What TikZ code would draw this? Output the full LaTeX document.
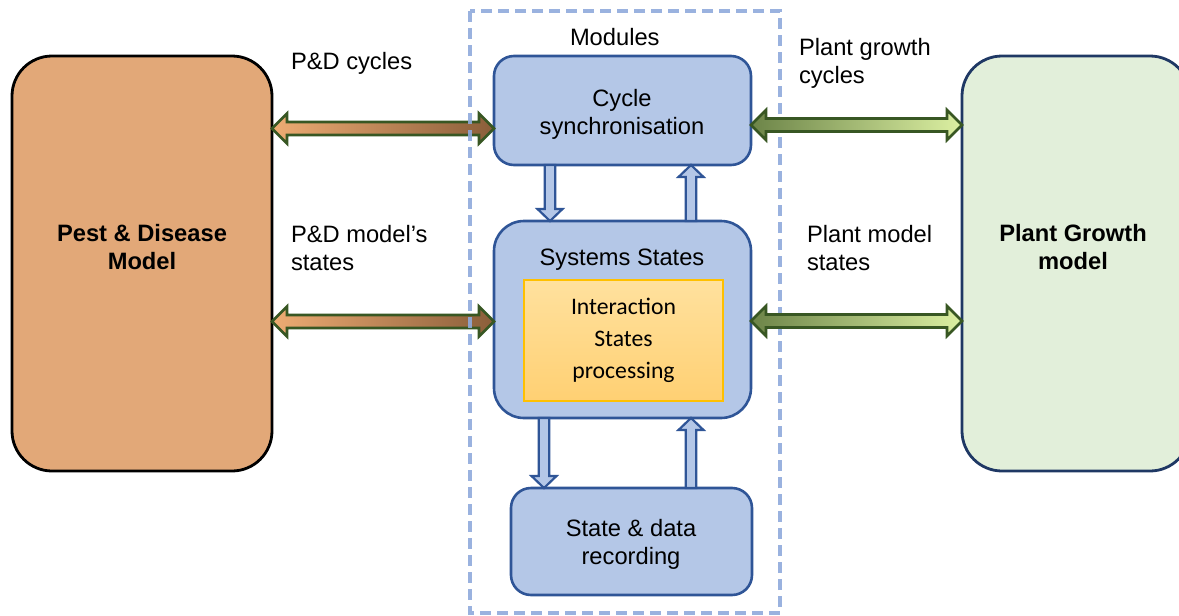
\documentclass[tikz,border=0pt]{standalone}
\usepackage{fontspec}
\setmainfont{Liberation Sans}
\newfontfamily\calfont{Carlito}
\usetikzlibrary{calc}
\definecolor{pdfill}{RGB}{226,168,120}
\definecolor{pgfill}{RGB}{226,239,218}
\definecolor{pgline}{RGB}{31,56,100}
\definecolor{modfill}{RGB}{180,199,231}
\definecolor{modline}{RGB}{47,85,151}
\definecolor{dashc}{RGB}{143,170,220}
\definecolor{intline}{RGB}{255,192,0}
\definecolor{inttop}{RGB}{255,225,158}
\definecolor{intbot}{RGB}{255,208,115}
\definecolor{arrline}{RGB}{56,87,35}
\definecolor{orL}{RGB}{238,172,115}
\definecolor{orR}{RGB}{138,94,58}
\definecolor{grL}{RGB}{108,132,72}
\definecolor{grR}{RGB}{220,240,162}
\newcommand\hdarrow[3]{%
 \draw[#3] (#1) -- ($(#1)+(7.5pt,7.5pt)$) -- ($(#1)+(7.5pt,3.25pt)$) -- ($(#2)+(-7.5pt,3.25pt)$) -- ($(#2)+(-7.5pt,7.5pt)$) -- (#2) -- ($(#2)+(-7.5pt,-7.5pt)$) -- ($(#2)+(-7.5pt,-3.25pt)$) -- ($(#1)+(7.5pt,-3.25pt)$) -- ($(#1)+(7.5pt,-7.5pt)$) -- cycle;}
\newcommand\vdown[3]{%
 \draw[#3] ($(#1)+(-2.6pt,0pt)$) -- ($(#2)+(-2.6pt,6pt)$) -- ($(#2)+(-6.25pt,6pt)$) -- (#2) -- ($(#2)+(6.25pt,6pt)$) -- ($(#2)+(2.6pt,6pt)$) -- ($(#1)+(2.6pt,0pt)$) -- cycle;}
\newcommand\vup[3]{%
 \draw[#3] ($(#1)+(-2.6pt,0pt)$) -- ($(#2)+(-2.6pt,-6pt)$) -- ($(#2)+(-6.25pt,-6pt)$) -- (#2) -- ($(#2)+(6.25pt,-6pt)$) -- ($(#2)+(2.6pt,-6pt)$) -- ($(#1)+(2.6pt,0pt)$) -- cycle;}
\begin{document}
\begin{tikzpicture}[x=0.5pt,y=-0.5pt,
  txt/.style={font=\fontsize{11.85}{14}\selectfont, inner sep=0pt, outer sep=0pt, align=center},
  lbl/.style={txt, align=left, anchor=west},
  bigbox/.style={line width=1.4pt, rounded corners=20pt, inner sep=0pt, outer sep=0pt},
  modbox/.style={draw=modline, fill=modfill, line width=1.3pt, rounded corners=10pt, inner sep=0pt, outer sep=0pt},
  harrL/.style={draw=arrline, line width=1.3pt, left color=orL, right color=orR},
  harrR/.style={draw=arrline, line width=1.3pt, left color=grL, right color=grR},
  varr/.style={draw=modline, fill=modfill, line width=1.1pt}]
\useasboundingbox (0,0) rectangle (1179,616);
\clip (0,0) rectangle (1179,616);
% big side boxes
\node[bigbox, draw=black, fill=pdfill, minimum width=130pt, minimum height=207.5pt] (pd) at (142,263.5) {};
\node[txt, font=\fontsize{11.85}{14}\selectfont\bfseries] (pdt) at (142,247) {Pest \& Disease\\Model};
\node[bigbox, draw=pgline, fill=pgfill, minimum width=114pt, minimum height=207.5pt] (pg) at (1076,263.5) {};
\node[txt, font=\fontsize{11.85}{14}\selectfont\bfseries] (pgt) at (1073,247) {Plant Growth\\model};
% modules
\node[modbox, minimum width=128.5pt, minimum height=54.5pt] (cs) at (622.5,110.5) {};
\node[txt] (cst) at (622,114) {Cycle\\synchronisation};
\node[modbox, rounded corners=15pt, minimum width=128.5pt, minimum height=98.5pt] (ss) at (622.5,319.5) {};
\node[txt] (sst) at (622,260) {Systems States};
\node[draw=intline, line width=0.8pt, top color=inttop, bottom color=intbot, minimum width=99.5pt, minimum height=60.5pt, inner sep=0pt, outer sep=0pt, align=center, font=\calfont\fontsize{11.85}{16}\selectfont] (ib) at (623.5,340.5) {Interaction\\States\\processing};
\node[modbox, minimum width=120.5pt, minimum height=53.5pt] (sd) at (631.5,541.5) {};
\node[txt] (sdt) at (631,544) {State \& data\\recording};
% labels
\node[lbl] (mod) at (570,37) {Modules};
\node[lbl] (l1) at (291,63) {P\&D cycles};
\node[lbl] (l2) at (291,248) {P\&D model’s\\states};
\node[lbl] (l3) at (799,63) {Plant growth\\cycles};
\node[lbl] (l4) at (807,248) {Plant model\\states};
% horizontal coordinates
\coordinate (yA) at (0,128.5);
\coordinate (yB) at (0,321.5);
\coordinate (yC) at (0,125);
\coordinate (yD) at (0,321);
\coordinate (a1) at (pd.east |- yA);
\coordinate (a2) at (cs.west |- yA);
\coordinate (b1) at (pd.east |- yB);
\coordinate (b2) at (ss.west |- yB);
\coordinate (c1) at (cs.east |- yC);
\coordinate (c2) at (pg.west |- yC);
\coordinate (d1) at (ss.east |- yD);
\coordinate (d2) at (pg.west |- yD);
\hdarrow{a1}{a2}{harrL}
\hdarrow{b1}{b2}{harrL}
% dashed modules frame
\draw[dashc, line width=1.75pt, dash pattern=on 5.5pt off 3pt, opacity=0.9] (470,11) rectangle (780,613);
\hdarrow{c1}{c2}{harrR}
\hdarrow{d1}{d2}{harrR}
% vertical coordinates
\coordinate (xA) at (550,0);
\coordinate (xB) at (691,0);
\coordinate (xC) at (544,0);
\coordinate (xD) at (691,0);
\coordinate (v1) at (xA |- cs.south);
\coordinate (v2) at (xA |- ss.north);
\coordinate (v3) at (xB |- ss.north);
\coordinate (v4) at (xB |- cs.south);
\coordinate (v5) at (xC |- ss.south);
\coordinate (v6) at (xC |- sd.north);
\coordinate (v7) at (xD |- sd.north);
\coordinate (v8) at (xD |- ss.south);
\vdown{v1}{v2}{varr}
\vup{v3}{v4}{varr}
\vdown{v5}{v6}{varr}
\vup{v7}{v8}{varr}
\end{tikzpicture}
\end{document}
